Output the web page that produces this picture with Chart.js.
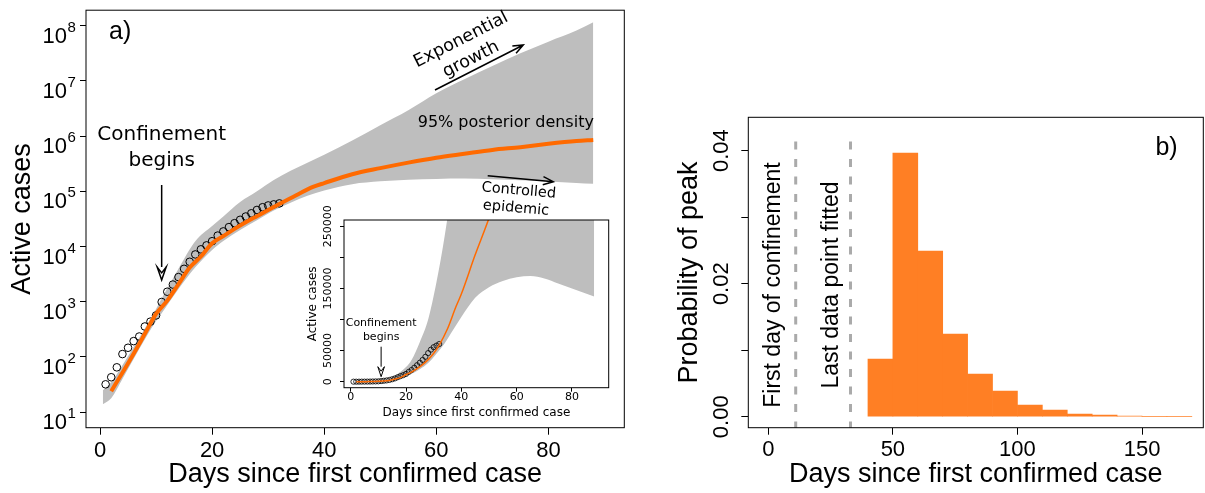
<!DOCTYPE html>
<html>
<head>
<meta charset="utf-8">
<script src="https://cdn.jsdelivr.net/npm/chart.js@4.4.1/dist/chart.umd.min.js"></script>
<style>
  html, body { margin: 0; padding: 0; background: #fff; }
  #wrap { position: relative; width: 1205px; height: 493px; overflow: hidden; background: #fff; }
  canvas { position: absolute; }
  #cMain { left: 0; top: 0; }
  #cInset { left: 290px; top: 195px; }
  #cPeak { left: 660px; top: 0; }
</style>
</head>
<body>
<div id="wrap">
  <canvas id="cMain" width="660" height="493"></canvas>
  <canvas id="cInset" width="330" height="235"></canvas>
  <canvas id="cPeak" width="545" height="493"></canvas>
</div>
<script>
// observed active cases
const obsDays = [1,2,3,4,5,6,7,8,9,10,11,12,13,14,15,16,17,18,19,20,21,22,23,24,25,26,27,28,29,30,31,32];
const obsCases = [32,43,65,113,147,194,235,357,437,566,990,1520,2050,2800,3950,5300,7200,8900,10500,12500,15800,18800,22500,26500,30500,35000,40000,46000,51500,55500,58000,60500];

// fitted model (median)
const fitDays = [2,4,6,8,10,12,14,16,18,20,22,24,26,28,30,32,35,38,40,45,50,55,60,65,70,75,80,85,88];
const fitCases = [24,52,115,263,603,1050,2090,4170,6600,11500,15500,20900,27500,35500,45700,58900,85100,120000,141000,204000,263000,331000,407000,479000,562000,631000,724000,813000,851000];

// 95% posterior density band
const bandDays = [0.5,2,4,7,10,11,14,17,20,22,25,28,31,34,37,40,45,50,55,60,65,70,75,80,85,88];
const bandUpper = [25,35,71,224,741,1150,3980,12500,23500,35000,64000,100000,160000,235000,330000,460000,832000,1580000,2950000,6000000,10700000,18600000,31600000,51300000,81300000,115000000];
const bandLower = [14,18,40,140,450,620,1700,4200,8700,12600,20000,30000,45000,62000,83000,104000,135000,152000,162000,168000,170000,166000,158000,150000,142000,137000];

const dayTicks = [0,20,40,60,80];
const logTicks = [1e1,1e2,1e3,1e4,1e5,1e6,1e7,1e8];
const insetCaseTicks = [0,50000,100000,150000,200000,250000];
const insetCaseLabels = [0,50000,150000,250000];

// b) probability of peak, 10-day bins (centres)
const peakBinDays = [45,55,65,75,85,95,105,115,125,135,145,155,165];
const peakProb = [0.00868,0.03965,0.0249,0.01243,0.00642,0.00386,0.00176,0.00101,0.0004,0.00026,0.00011,0.00005,0.00004];
const peakDayTicks = [0,50,100,150];
const peakProbTicks = [0,0.01,0.02,0.03,0.04];
const peakProbLabels = [0,0.02,0.04];
const markerDays = [11,33];
const markerNames = ["First day of confinement","Last data point fitted"];
const markerSpan = [0.0414,-0.0017];

const ORANGE = '#FF6A00';
const BAR_ORANGE = '#FF7F24';
const GREY = '#BEBEBE';
const LIB = '"Liberation Sans", Arial, sans-serif';
const DJV = '"DejaVu Sans", sans-serif';

Chart.defaults.font.family = LIB;
Chart.defaults.color = '#000';

const xy = (xs, ys) => xs.map((x, i) => ({ x, y: ys[i] }));
const fixTicks = vals => s => { s.ticks = vals.map(v => ({ value: v })); };

const framePlugin = {
  id: 'frame',
  afterDraw(chart) {
    const { ctx, chartArea: a } = chart;
    ctx.save();
    ctx.strokeStyle = '#000';
    ctx.lineWidth = 1;
    ctx.strokeRect(a.left, a.top, a.right - a.left, a.bottom - a.top);
    ctx.restore();
  }
};

function text(ctx, s, x, y, font, opts = {}) {
  ctx.save();
  ctx.translate(x, y);
  if (opts.rot) ctx.rotate(opts.rot);
  ctx.font = font;
  ctx.fillStyle = '#000';
  ctx.textAlign = opts.align || 'center';
  ctx.textBaseline = opts.base || 'alphabetic';
  ctx.fillText(s, 0, 0);
  ctx.restore();
}

function arrowV(ctx, x1, y1, x2, y2, len, ang, lw) {
  const t = Math.atan2(y2 - y1, x2 - x1);
  ctx.save();
  ctx.strokeStyle = '#000';
  ctx.lineWidth = lw;
  ctx.beginPath();
  ctx.moveTo(x1, y1); ctx.lineTo(x2, y2);
  ctx.moveTo(x2 - len * Math.cos(t - ang), y2 - len * Math.sin(t - ang));
  ctx.lineTo(x2, y2);
  ctx.lineTo(x2 - len * Math.cos(t + ang), y2 - len * Math.sin(t + ang));
  ctx.stroke();
  ctx.restore();
}

function arrowHollow(ctx, x, y1, y2, len, hw, lw) {
  ctx.save();
  ctx.strokeStyle = '#000';
  ctx.lineWidth = lw;
  ctx.beginPath();
  ctx.moveTo(x, y1); ctx.lineTo(x, y2 - len);
  ctx.stroke();
  ctx.beginPath();
  ctx.moveTo(x - hw, y2 - len); ctx.lineTo(x, y2); ctx.lineTo(x + hw, y2 - len);
  ctx.lineTo(x, y2 - len * 0.55); ctx.closePath();
  ctx.fillStyle = '#fff';
  ctx.fill();
  ctx.stroke();
  ctx.restore();
}

// ---------- a) main panel ----------
const mainLabels = {
  id: 'mainLabels',
  afterDraw(chart) {
    const { ctx, chartArea: a } = chart;
    const xs = chart.scales.x, ys = chart.scales.y;
    logTicks.forEach(v => {
      const y = ys.getPixelForValue(v);
      text(ctx, '10', a.left - 19, y + 17, '22px ' + LIB, { align: 'right' });
      text(ctx, String(Math.round(Math.log10(v))), a.left - 18.5, y + 6, '15px ' + LIB, { align: 'left' });
    });
    text(ctx, 'a)', 109, 39, '25px ' + LIB, { align: 'left' });
    const cx = xs.getPixelForValue(11);
    text(ctx, 'Confinement', cx, 140, '20px ' + DJV);
    text(ctx, 'begins', cx, 165.7, '20px ' + DJV);
    arrowHollow(ctx, cx, 185, 280, 13, 4.5, 1.5);
    const rg = -27 * Math.PI / 180;
    text(ctx, 'Exponential', 461, 40, '17.5px ' + DJV, { rot: rg, base: 'middle' });
    text(ctx, 'growth', 471, 59.5, '17.5px ' + DJV, { rot: rg, base: 'middle' });
    arrowV(ctx, 435, 90, 523.3, 45, 11, 0.38, 1.5);
    text(ctx, '95% posterior density', 505.8, 126.7, '16px ' + DJV);
    const rc = 5 * Math.PI / 180;
    text(ctx, 'Controlled', 518.8, 190.8, '14.5px ' + DJV, { rot: rc, base: 'middle' });
    text(ctx, 'epidemic', 516, 208.3, '14.5px ' + DJV, { rot: rc, base: 'middle' });
    arrowV(ctx, 487.7, 175.7, 553.3, 181.7, 11, 0.38, 1.5);
  }
};

new Chart(document.getElementById('cMain'), {
  type: 'line',
  data: {
    datasets: [
      { data: xy(fitDays, fitCases), borderColor: ORANGE, borderWidth: 4, pointRadius: 0,
        cubicInterpolationMode: 'monotone', order: 0 },
      { data: xy(obsDays, obsCases), showLine: false, pointRadius: 3.8, pointBorderWidth: 1,
        pointBorderColor: '#000', pointBackgroundColor: 'rgba(0,0,0,0)', order: 1 },
      { data: xy(bandDays, bandUpper), borderColor: 'rgba(0,0,0,0)', borderWidth: 0, pointRadius: 0,
        fill: '+1', backgroundColor: GREY, cubicInterpolationMode: 'monotone', order: 2 },
      { data: xy(bandDays, bandLower), borderColor: 'rgba(0,0,0,0)', borderWidth: 0, pointRadius: 0,
        fill: false, cubicInterpolationMode: 'monotone', order: 3 }
    ]
  },
  options: {
    responsive: false,
    animation: false,
    layout: { padding: { left: 0, top: 4.3, right: 35.7, bottom: 0 } },
    plugins: { legend: { display: false }, tooltip: { enabled: false } },
    scales: {
      x: {
        type: 'linear', min: -2.5, max: 93.54,
        afterBuildTicks: fixTicks(dayTicks),
        afterFit: s => { s.height = 65.3; },
        grid: { drawOnChartArea: false, tickLength: 7, tickColor: '#000' },
        border: { display: false },
        ticks: { font: { size: 22 }, color: '#000', padding: 3, maxRotation: 0, autoSkip: false },
        title: { display: true, text: 'Days since first confirmed case', font: { size: 27 }, color: '#000',
                 padding: { top: 0, bottom: 2 } }
      },
      y: {
        type: 'logarithmic', min: 5.245, max: 1.905e8,
        afterBuildTicks: fixTicks(logTicks),
        afterFit: s => { s.width = 86; },
        grid: { drawOnChartArea: false, tickLength: 6, tickColor: '#000' },
        border: { display: false },
        ticks: { callback: () => '', autoSkip: false },
        title: { display: true, text: 'Active cases', font: { size: 27 }, color: '#000',
                 padding: { top: 6.3, bottom: 0 } }
      }
    }
  },
  plugins: [framePlugin, mainLabels]
});

// ---------- a) inset, linear scale ----------
const insetLabels = {
  id: 'insetLabels',
  afterDraw(chart) {
    const { ctx } = chart;
    const xs = chart.scales.x, ys = chart.scales.y;
    insetCaseLabels.forEach(v => {
      text(ctx, String(v), 38.3, ys.getPixelForValue(v), '11px ' + DJV, { rot: -Math.PI / 2, base: 'middle' });
    });
    const cx = xs.getPixelForValue(11);
    text(ctx, 'Confinement', cx, 128.3, '11px ' + DJV, { base: 'middle' });
    text(ctx, 'begins', cx, 141.7, '11px ' + DJV, { base: 'middle' });
    arrowHollow(ctx, cx, 151.7, 181.7, 10, 3.3, 1);
  }
};

new Chart(document.getElementById('cInset'), {
  type: 'line',
  data: {
    datasets: [
      { data: xy(fitDays, fitCases), borderColor: ORANGE, borderWidth: 1.5, pointRadius: 0,
        cubicInterpolationMode: 'monotone', order: 0 },
      { data: xy(obsDays, obsCases), showLine: false, pointRadius: 2.6, pointBorderWidth: 0.8,
        pointBorderColor: '#000', pointBackgroundColor: 'rgba(0,0,0,0)', order: 1 },
      { data: xy(bandDays, bandUpper), borderColor: 'rgba(0,0,0,0)', borderWidth: 0, pointRadius: 0,
        fill: '+1', backgroundColor: GREY, cubicInterpolationMode: 'monotone', order: 2 },
      { data: xy(bandDays, bandLower), borderColor: 'rgba(0,0,0,0)', borderWidth: 0, pointRadius: 0,
        fill: false, cubicInterpolationMode: 'monotone', order: 3 }
    ]
  },
  options: {
    responsive: false,
    animation: false,
    layout: { padding: { left: 0, top: 25, right: 11.3, bottom: 0 } },
    plugins: { legend: { display: false }, tooltip: { enabled: false } },
    scales: {
      x: {
        type: 'linear', min: -2.42, max: 93.27,
        afterBuildTicks: fixTicks(dayTicks),
        afterFit: s => { s.height = 42.3; },
        grid: { drawOnChartArea: false, tickLength: 4, tickColor: '#000' },
        border: { display: false },
        ticks: { font: { size: 11, family: DJV }, color: '#000', padding: -1.3, maxRotation: 0, autoSkip: false },
        title: { display: true, text: 'Days since first confirmed case', font: { size: 12, family: DJV },
                 color: '#000', padding: { top: 0, bottom: 9.5 } }
      },
      y: {
        type: 'linear', min: -9650, max: 259970,
        afterBuildTicks: fixTicks(insetCaseTicks),
        afterFit: s => { s.width = 54; },
        grid: { drawOnChartArea: false, tickLength: 4, tickColor: '#000' },
        border: { display: false },
        ticks: { callback: () => '', autoSkip: false },
        title: { display: true, text: 'Active cases', font: { size: 12, family: DJV }, color: '#000',
                 padding: { top: 16.1, bottom: 0 } }
      }
    }
  },
  plugins: [framePlugin, insetLabels]
});

// ---------- b) probability of peak ----------
const peakLabels = {
  id: 'peakLabels',
  afterDraw(chart) {
    const { ctx } = chart;
    const xs = chart.scales.x, ys = chart.scales.y;
    peakProbLabels.forEach(v => {
      text(ctx, v.toFixed(2), 61.7, ys.getPixelForValue(v), '22px ' + LIB, { rot: -Math.PI / 2, base: 'middle' });
    });
    const yMid = ys.getPixelForValue(0.0198);
    text(ctx, markerNames[0], xs.getPixelForValue(2), yMid, '23px ' + LIB, { rot: -Math.PI / 2, base: 'middle' });
    text(ctx, markerNames[1], xs.getPixelForValue(25.5), yMid, '23px ' + LIB, { rot: -Math.PI / 2, base: 'middle' });
    text(ctx, 'b)', 506.5, 155, '25px ' + LIB);
  }
};

const markerSets = markerDays.map(d => ({
  type: 'line',
  data: markerSpan.map(v => ({ x: d, y: v })),
  borderColor: '#AAAAAA', borderWidth: 3, borderDash: [8, 9.5], pointRadius: 0, fill: false, order: 0
}));

new Chart(document.getElementById('cPeak'), {
  type: 'bar',
  data: {
    datasets: [
      { type: 'bar', data: xy(peakBinDays, peakProb), backgroundColor: BAR_ORANGE, borderWidth: 0,
        barPercentage: 1, categoryPercentage: 1, order: 1 },
      ...markerSets
    ]
  },
  options: {
    responsive: false,
    animation: false,
    layout: { padding: { left: 0, top: 117.3, right: 1.7, bottom: 0 } },
    plugins: { legend: { display: false }, tooltip: { enabled: false } },
    scales: {
      x: {
        type: 'linear', min: -8.03, max: 174.6, offset: false,
        afterBuildTicks: fixTicks(peakDayTicks),
        afterFit: s => { s.height = 65.3; },
        grid: { drawOnChartArea: false, tickLength: 7, tickColor: '#000', offset: false },
        border: { display: false },
        ticks: { font: { size: 22 }, color: '#000', padding: 1.6, maxRotation: 0, autoSkip: false },
        title: { display: true, text: 'Days since first confirmed case', font: { size: 27 }, color: '#000',
                 padding: { top: 0, bottom: 1.8 } }
      },
      y: {
        type: 'linear', min: -0.00165, max: 0.04502,
        afterBuildTicks: fixTicks(peakProbTicks),
        afterFit: s => { s.width = 88.3; },
        grid: { drawOnChartArea: false, tickLength: 7, tickColor: '#000' },
        border: { display: false },
        ticks: { callback: () => '', autoSkip: false },
        title: { display: true, text: 'Probability of peak', font: { size: 27 }, color: '#000',
                 padding: { top: 13.8, bottom: 0 } }
      }
    }
  },
  plugins: [framePlugin, peakLabels]
});
</script>
</body>
</html>
